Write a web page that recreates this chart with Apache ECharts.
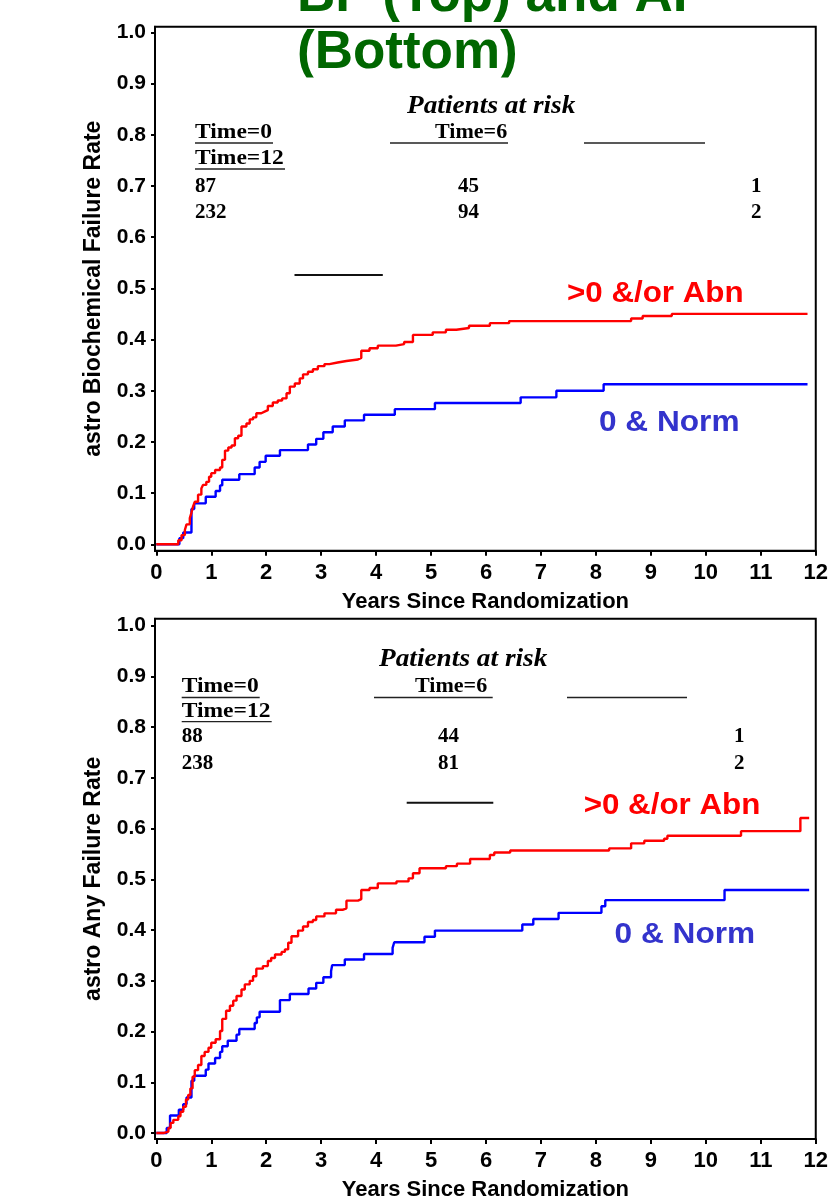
<!DOCTYPE html>
<html>
<head>
<meta charset="utf-8">
<script src="https://cdn.jsdelivr.net/npm/echarts@6/dist/echarts.min.js"></script>
<style>
html,body{margin:0;padding:0;background:#fff;}
#chart{width:831px;height:1202px;}
</style>
</head>
<body>
<div id="chart"></div>
<script>
// ---- data ----
const xTicks = [0,1,2,3,4,5,6,7,8,9,10,11,12];
const yTicks = [0,0.1,0.2,0.3,0.4,0.5,0.6,0.7,0.8,0.9,1.0];

const topRedT = [0,0.40,0.46,0.52,0.55,0.61,0.64,0.67,0.70,0.76,0.82,0.85,0.91,0.96,1.00,1.07,1.16,1.20,1.25,1.31,1.37,1.43,1.49,1.55,1.64,1.70,1.76,1.82,1.91,1.97,2.03,2.12,2.21,2.29,2.37,2.43,2.52,2.61,2.67,2.76,2.85,2.94,3.06,3.15,3.30,3.46,3.67,3.73,3.88,4.03,4.36,4.51,4.67,5.03,5.27,5.46,5.69,6.07,6.42,8.64,8.85,9.38,11.85];
const topRedV = [0,0.008,0.018,0.028,0.039,0.051,0.062,0.074,0.083,0.097,0.109,0.116,0.122,0.132,0.139,0.145,0.150,0.165,0.183,0.189,0.193,0.207,0.212,0.230,0.236,0.244,0.248,0.256,0.259,0.262,0.270,0.277,0.281,0.285,0.295,0.308,0.314,0.324,0.332,0.337,0.342,0.348,0.352,0.355,0.358,0.361,0.364,0.378,0.383,0.388,0.391,0.395,0.409,0.414,0.419,0.4225,0.427,0.432,0.436,0.441,0.446,0.450,0.450];

const topBlueT = [0,0.42,0.49,0.64,0.69,0.90,1.08,1.16,1.20,1.51,1.79,1.88,1.99,2.25,2.76,2.91,3.04,3.21,3.43,3.78,4.34,5.07,6.63,7.28,8.14,11.85];
const topBlueV = [0,0.012,0.023,0.069,0.080,0.093,0.104,0.115,0.126,0.137,0.150,0.161,0.173,0.184,0.195,0.206,0.219,0.230,0.242,0.253,0.264,0.276,0.287,0.300,0.3125,0.3125];

const botRedT = [0,0.13,0.22,0.26,0.31,0.40,0.44,0.49,0.54,0.58,0.62,0.66,0.70,0.76,0.82,0.88,0.95,1.00,1.08,1.16,1.20,1.27,1.34,1.40,1.46,1.55,1.61,1.70,1.76,1.82,1.94,2.03,2.09,2.16,2.28,2.34,2.40,2.46,2.58,2.67,2.76,2.85,2.91,3.06,3.27,3.39,3.46,3.67,3.73,3.88,4.03,4.37,4.59,4.67,4.79,5.27,5.47,5.71,6.07,6.15,6.44,8.24,8.64,8.88,9.24,9.30,10.64,11.72,11.88];
const botRedV = [0,0.003,0.010,0.020,0.026,0.033,0.042,0.052,0.066,0.075,0.088,0.111,0.124,0.134,0.152,0.160,0.168,0.178,0.185,0.201,0.225,0.241,0.251,0.261,0.270,0.283,0.293,0.300,0.309,0.324,0.329,0.339,0.345,0.352,0.357,0.362,0.375,0.388,0.399,0.407,0.416,0.420,0.427,0.433,0.440,0.443,0.458,0.461,0.479,0.483,0.492,0.496,0.502,0.512,0.522,0.526,0.531,0.540,0.548,0.553,0.557,0.561,0.571,0.576,0.580,0.586,0.595,0.621,0.621];

const botBlueT = [0,0.19,0.25,0.41,0.49,0.55,0.64,0.69,0.90,0.95,1.07,1.16,1.20,1.30,1.46,1.51,1.79,1.83,1.88,2.25,2.43,2.77,2.91,3.04,3.18,3.20,3.43,3.78,4.30,4.33,4.88,5.07,6.66,6.86,7.32,8.10,8.17,10.34,11.88];
const botBlueV = [0,0.010,0.0345,0.046,0.057,0.070,0.103,0.113,0.125,0.137,0.148,0.160,0.171,0.182,0.194,0.205,0.217,0.228,0.239,0.262,0.274,0.285,0.296,0.307,0.319,0.331,0.342,0.353,0.365,0.376,0.387,0.399,0.411,0.422,0.434,0.447,0.459,0.479,0.479];

const riskHeaders = ['Time=0', 'Time=6', 'Time=12'];
const riskTop = [[87, 45, 1], [232, 94, 2]];
const riskBot = [[88, 44, 1], [238, 81, 2]];

const titleLines = ['BF (Top) and AF', '(Bottom)'];
const yNames = ['astro Biochemical Failure Rate', 'astro Any Failure Rate'];
const xName = 'Years Since Randomization';
const groupNames = ['>0 &/or Abn', '0 & Norm'];

// ---- helpers ----
const pairs = (t, v) => t.map((x, i) => [x, v[i]]);
const SANS = "'Liberation Sans', Arial, sans-serif";
const SERIF = "'Liberation Serif', 'Times New Roman', serif";
const RED = '#ff0000', BLUE = '#0000ff', BLUELBL = '#3333cc', GREEN = '#006600';

function xAxisCfg(gi) {
  return {
    type: 'value', gridIndex: gi, min: -0.0236, max: 12,
    name: xName, nameLocation: 'middle', nameGap: 40,
    nameTextStyle: {fontFamily: SANS, fontWeight: 'bold', fontSize: 22, color: '#000'},
    axisLine: {show: true, onZero: false, lineStyle: {color: '#000', width: 2}},
    axisTick: {show: true, inside: false, length: 5, lineStyle: {color: '#000', width: 2}, customValues: xTicks},
    axisLabel: {show: true, margin: 11, fontFamily: SANS, fontWeight: 'bold', fontSize: 22, color: '#000',
      customValues: xTicks, formatter: v => String(Math.round(v))},
    splitLine: {show: false}
  };
}
function yAxisCfg(gi, min, max) {
  return {
    type: 'value', gridIndex: gi, min: min, max: max,
    name: yNames[gi], nameLocation: 'middle', nameGap: 50, nameRotate: 90,
    nameTextStyle: {fontFamily: SANS, fontWeight: 'bold', fontSize: 23, color: '#000'},
    axisLine: {show: true, onZero: false, lineStyle: {color: '#000', width: 2}},
    axisTick: {show: true, inside: false, length: 4, lineStyle: {color: '#000', width: 2}, customValues: yTicks},
    axisLabel: {show: true, margin: 9, fontFamily: SANS, fontWeight: 'bold', fontSize: 21, color: '#000',
      customValues: yTicks, formatter: v => v.toFixed(1)},
    splitLine: {show: false}
  };
}
function stepSeries(gi, data, color) {
  return {
    type: 'line', xAxisIndex: gi, yAxisIndex: gi, data: data, step: 'end',
    showSymbol: false, symbol: 'none', lineStyle: {color: color, width: 2.4}, z: 3, silent: true
  };
}
function txt(x, y, text, font, fill, sx, extra) {
  return Object.assign({
    type: 'text', x: x, y: y, scaleX: sx || 1, z: 100,
    style: {text: text, font: font, fill: fill, align: 'left', verticalAlign: 'middle',
      textAlign: 'left', textVerticalAlign: 'middle'}
  }, extra || {});
}
function hline(x1, x2, y, w, c) {
  return {type: 'line', z: 100, shape: {x1: x1, y1: y, x2: x2, y2: y}, style: {stroke: c || '#222', lineWidth: w || 1.3}};
}

// at-risk tables
function riskTable(o, risk) {
  const els = [];
  const hf = 'bold 21px ' + SERIF;
  els.push(txt(o.px, o.pb - 8.8, 'Patients at risk', 'italic bold 26px ' + SERIF, '#000', 1.05));
  els.push(txt(o.c0, o.b0 - 7.1, riskHeaders[0], hf, '#000', 1.12));
  els.push(hline(o.c0, o.c0 + 78, o.u0));
  els.push(txt(o.c1h, o.b0 - 7.1, riskHeaders[1], hf, '#000', 1.05));
  els.push(hline(o.u1a, o.u1b, o.u0));
  els.push(hline(o.u2a, o.u2b, o.u0));
  els.push(txt(o.c0, o.b1 - 7.1, riskHeaders[2], hf, '#000', 1.12));
  els.push(hline(o.c0, o.c0 + 90, o.u1));
  const cols = [o.c0, o.c1, o.c2];
  risk.forEach((row, r) => {
    row.forEach((v, c) => {
      els.push(txt(cols[c], o.rb[r] - 7.1, String(v), hf, '#000', 1));
    });
  });
  els.push(hline(o.la, o.lb, o.ly, 2, '#111'));
  return els;
}

const graphics = [].concat(
  [
    txt(297, -3.4, titleLines[0], 'bold 53px ' + SANS, GREEN, 1),
    txt(297, 53.3, titleLines[1], 'bold 53px ' + SANS, GREEN, 1),
    {type: 'rect', z: 101, shape: {x: 288, y: 77.5, width: 245, height: 10}, style: {fill: '#fff'}}
  ],
  riskTable({px: 407, pb: 115, c0: 195, b0: 139.3, u0: 143, b1: 166, u1: 169, c1h: 435, u1a: 390, u1b: 508,
    u2a: 584, u2b: 705, c1: 458, c2: 751, rb: [193.3, 219.3], la: 294.5, lb: 382.8, ly: 275}, riskTop),
  riskTable({px: 379, pb: 668.3, c0: 181.7, b0: 694, u0: 697.5, b1: 718.3, u1: 721.7, c1h: 415, u1a: 374, u1b: 492.7,
    u2a: 567, u2b: 687, c1: 438, c2: 734, rb: [744, 770.7], la: 406.7, lb: 493.3, ly: 802.7}, riskBot),
  [
    txt(567, 294.3, groupNames[0], 'bold 29px ' + SANS, RED, 1.08),
    txt(599, 422.5, groupNames[1], 'bold 29px ' + SANS, BLUELBL, 1.09),
    txt(583.7, 806, groupNames[0], 'bold 29px ' + SANS, RED, 1.08),
    txt(614.6, 935, groupNames[1], 'bold 29px ' + SANS, BLUELBL, 1.09)
  ]
);

const chart = echarts.init(document.getElementById('chart'), null, {renderer: 'canvas'});
chart.setOption({
  animation: false,
  backgroundColor: '#fff',
  grid: [
    {left: 155, top: 26.7, width: 663, height: 524, show: true, borderColor: '#000', borderWidth: 2, backgroundColor: 'transparent', containLabel: false},
    {left: 155, top: 618.7, width: 663, height: 524, show: true, borderColor: '#000', borderWidth: 2, backgroundColor: 'transparent', containLabel: false}
  ],
  xAxis: [xAxisCfg(0), xAxisCfg(1)],
  yAxis: [yAxisCfg(0, -0.0125, 1.011), yAxisCfg(1, -0.0117, 1.0137)],
  series: [
    stepSeries(0, pairs(topBlueT, topBlueV), BLUE),
    stepSeries(0, pairs(topRedT, topRedV), RED),
    stepSeries(1, pairs(botBlueT, botBlueV), BLUE),
    stepSeries(1, pairs(botRedT, botRedV), RED)
  ],
  graphic: {elements: graphics}
});
</script>
</body>
</html>
